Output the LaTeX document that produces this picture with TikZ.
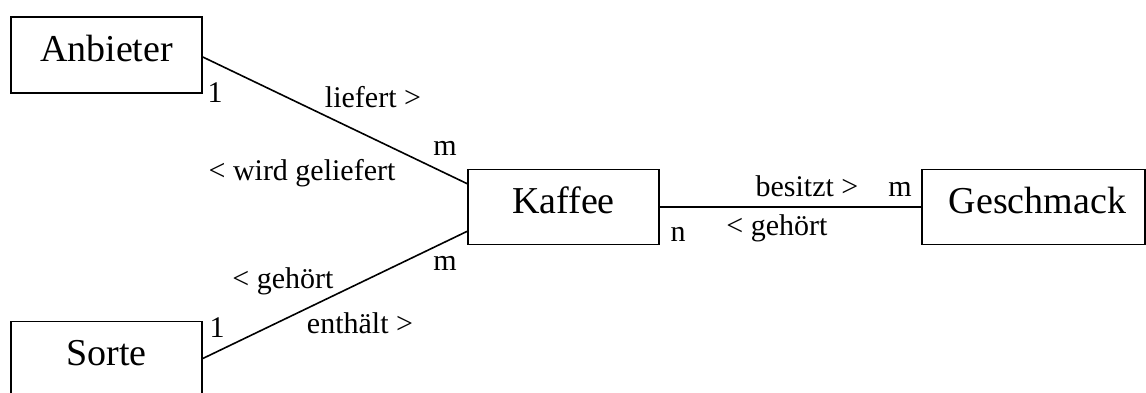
\documentclass[tikz,border=0pt]{standalone}
\usepackage{fontspec}
\setmainfont{Liberation Serif}
\begin{document}
\begin{tikzpicture}[x=1pt,y=-1pt,
  entity/.style={draw=black,line width=1.6pt,rectangle,inner sep=0pt,
    minimum width=191pt,minimum height=76pt,text height=12pt,text depth=0pt,
    font=\fontsize{38}{40}\selectfont},
  lab/.style={anchor=base,inner sep=0pt,font=\fontsize{30}{32}\selectfont},
  rel/.style={line width=1.6pt,draw=black}]
\useasboundingbox (0,0) rectangle (1146,392);
\clip (0,0) rectangle (1146,392);
\fill[white] (0,0) rectangle (1146,392);
% entities
\node[entity] (anb) at (106.5,55) {Anbieter};
\node[entity] (sor) at (106.5,359.5) {Sorte};
\node[entity,minimum height=75pt] (kaf) at (563.5,207) {Kaffee};
\node[entity,minimum width=223pt,minimum height=75pt] (ges) at (1033.5,207) {\hspace*{8pt}Geschmack};
% connectors
\coordinate (kin1) at ([yshift=-15pt]kaf.north west);
\coordinate (kin2) at ([yshift=14pt]kaf.south west);
\draw[rel] ([yshift=-2pt]anb.east) -- (kin1);
\draw[rel] ([yshift=1pt]sor.east) -- (kin2);
\draw[rel] (kaf.east) -- (ges.west);
% labels
\node[lab] (c1) at (215,102) {1};
\node[lab] (l1) at (373,107) {liefert >};
\node[lab] (c2) at (445,155) {m};
\node[lab] (l2) at (302,180) {< wird geliefert};
\node[lab] (l3) at (283,288) {< gehört};
\node[lab] (c3) at (445,270) {m};
\node[lab] (c4) at (217,337) {1};
\node[lab] (l4) at (360,333) {enthält >};
\node[lab] (l5) at (807,196) {besitzt >};
\node[lab] (c5) at (900,196) {m};
\node[lab] (c6) at (678,241) {n};
\node[lab] (l6) at (777,235) {< gehört};
\end{tikzpicture}
\end{document}
